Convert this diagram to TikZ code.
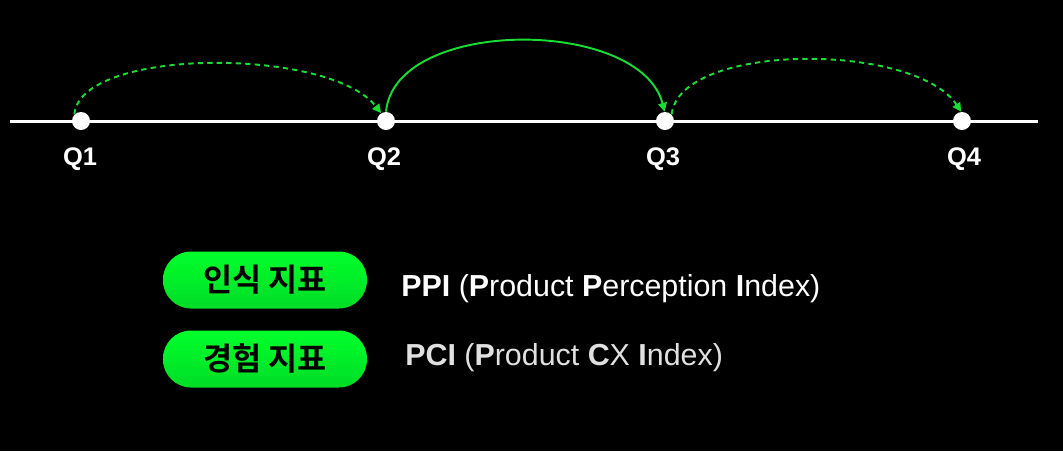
\documentclass[tikz,border=0pt]{standalone}
\usepackage{fontspec}
\setmainfont{Liberation Sans}
\newfontfamily\krfont{Noto Sans CJK KR}[BoldFont={Noto Sans CJK KR Bold}]
\usepackage{tikz}
\usetikzlibrary{arrows.meta}
\usetikzlibrary{positioning}
\definecolor{arcgreen}{RGB}{24,222,52}
\definecolor{pilltop}{RGB}{0,255,42}
\definecolor{pillbot}{RGB}{0,220,40}

\begin{document}
\begin{tikzpicture}[x=0.02cm,y=-0.02cm,
  dot/.style={circle,fill=white,inner sep=0pt,minimum size=0.36cm},
  qlabel/.style={text=white,font=\bfseries\fontsize{14.5}{16}\selectfont,anchor=base},
  hop/.style={draw=arcgreen,line width=1.1pt,-{Triangle[length=5pt,width=5pt]}},
  dashhop/.style={hop,dash pattern=on 3pt off 2.4pt},
  pill/.style={rounded corners=0.56cm,top color=pilltop,bottom color=pillbot,
    minimum width=4.08cm,minimum height=1.14cm,inner sep=0pt,
    font=\krfont\bfseries\fontsize{18}{20}\selectfont},
  idx/.style={anchor=base west,inner sep=0pt,font=\fontsize{17.3}{20}\selectfont}]
\fill[black] (0,0) rectangle (1063,451);
\useasboundingbox (0,0) rectangle (1063,451);
\draw[white,line width=1.7pt] (10,121)--(1038,121);
\node[dot] (q1) at (81,121) {};
\node[dot] (q2) at (386,121) {};
\node[dot] (q3) at (665,121) {};
\node[dot] (q4) at (962,121) {};
\node[qlabel] (l1) at (80,165) {Q1};
\node[qlabel] (l2) at (384,165) {Q2};
\node[qlabel] (l3) at (663,165) {Q3};
\node[qlabel] (l4) at (964,165) {Q4};
% quarter hops
\draw[dashhop] (q1.135) .. controls (80,47) and (330,47) .. (q2.122);
\draw[hop] (q2.90) .. controls (395,17) and (640,17) .. (q3.92);
\draw[dashhop] (q3.45) .. controls (680,42) and (915,42) .. (q4.95);
% legend
\node[pill] (perc) at (265,280) {인식 지표};
\node[pill] (expr) at (265,359) {경험 지표};
\node[idx,text=white] (ppi) at (401,296) {\textbf{PPI} (\textbf{P}roduct \textbf{P}erception \textbf{I}ndex)};
\node[idx,text=white!88!black] (pci) at (405,365) {\textbf{PCI} (\textbf{P}roduct \textbf{C}X \textbf{I}ndex)};
\end{tikzpicture}
\end{document}
